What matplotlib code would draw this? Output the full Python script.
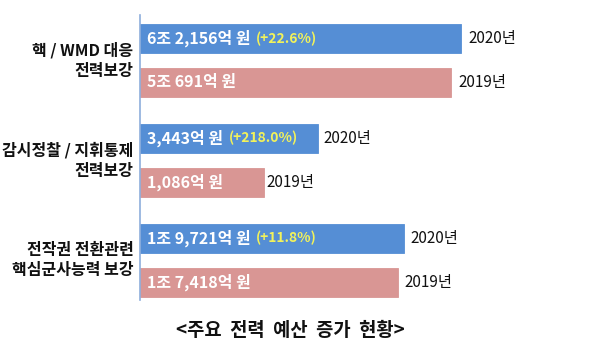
import matplotlib
matplotlib.use("Agg")
import matplotlib.pyplot as plt

plt.rcParams["font.family"] = ["Noto Sans CJK KR", "DejaVu Sans"]

# 예산 (단위: 억 원)
categories  = ["핵 / WMD 대응\n전력보강",
               "감시정찰 / 지휘통제\n전력보강",
               "전작권 전환관련\n핵심군사능력 보강"]
budget_2020 = [62156, 3443, 19721]
budget_2019 = [50691, 1086, 17418]
label_2020  = ["6조 2,156억 원", "3,443억 원", "1조 9,721억 원"]
label_2019  = ["5조 691억 원", "1,086억 원", "1조 7,418억 원"]
growth      = ["(+22.6%)", "(+218.0%)", "(+11.8%)"]
years       = ["2020년", "2019년"]

BLUE   = "#558ED5"
PINK   = "#D99694"
YELLOW = "#F2F25A"

fig = plt.figure(figsize=(6.0, 3.47), dpi=100)
ax = fig.add_axes([140 / 600, 1 - 300 / 347, 460 / 600, 285 / 347])

off, h = 0.22, 0.29
for i, cat in enumerate(categories):
    for val, lab, yr, color, dy in [
        (budget_2020[i], label_2020[i], years[0], BLUE, -off),
        (budget_2019[i], label_2019[i], years[1], PINK, off),
    ]:
        y = i + dy
        ax.barh(y, val, left=100, height=h, color=color,
                edgecolor=color, lw=0.6)
        t = ax.annotate(lab, xy=(100, y), xytext=(5, 0),
                        textcoords="offset points", va="center",
                        ha="left", color="white", fontsize=11.5,
                        fontweight="bold")
        if color == BLUE:
            ax.annotate(growth[i], xy=(1, 0.5), xycoords=t,
                        xytext=(4, 0), textcoords="offset points",
                        va="center", ha="left", color=YELLOW,
                        fontsize=10, fontweight="bold")
        ax.annotate(yr, xy=(val, y), xytext=(5, 0),
                    textcoords="offset points", va="center", ha="left",
                    color="#111111", fontsize=11)
    ax.text(-0.014, i, cat, transform=ax.get_yaxis_transform(),
            ha="right", va="center", fontsize=11.5, fontweight="bold",
            linespacing=1.3, color="#111111")

# 로그 눈금으로 작은 예산도 막대 안에 금액이 들어가게 함
ax.set_xscale("log")
ax.set_xlim(100, 1e6)
ax.set_ylim(2.40, -0.456)

for s in ["top", "right", "bottom"]:
    ax.spines[s].set_visible(False)
ax.spines["left"].set_color("#8EAEDC")
ax.spines["left"].set_linewidth(1.2)
ax.set_xticks([]); ax.set_yticks([])
ax.minorticks_off()
ax.tick_params(left=False, bottom=False, which="both",
               labelleft=False, labelbottom=False)

fig.text(290 / 600, 1 - 331 / 347, "<주요  전력  예산  증가  현황>",
         ha="center", va="center", fontsize=13.5, fontweight="bold",
         color="#111111")

fig.savefig("out.png", dpi=100)
